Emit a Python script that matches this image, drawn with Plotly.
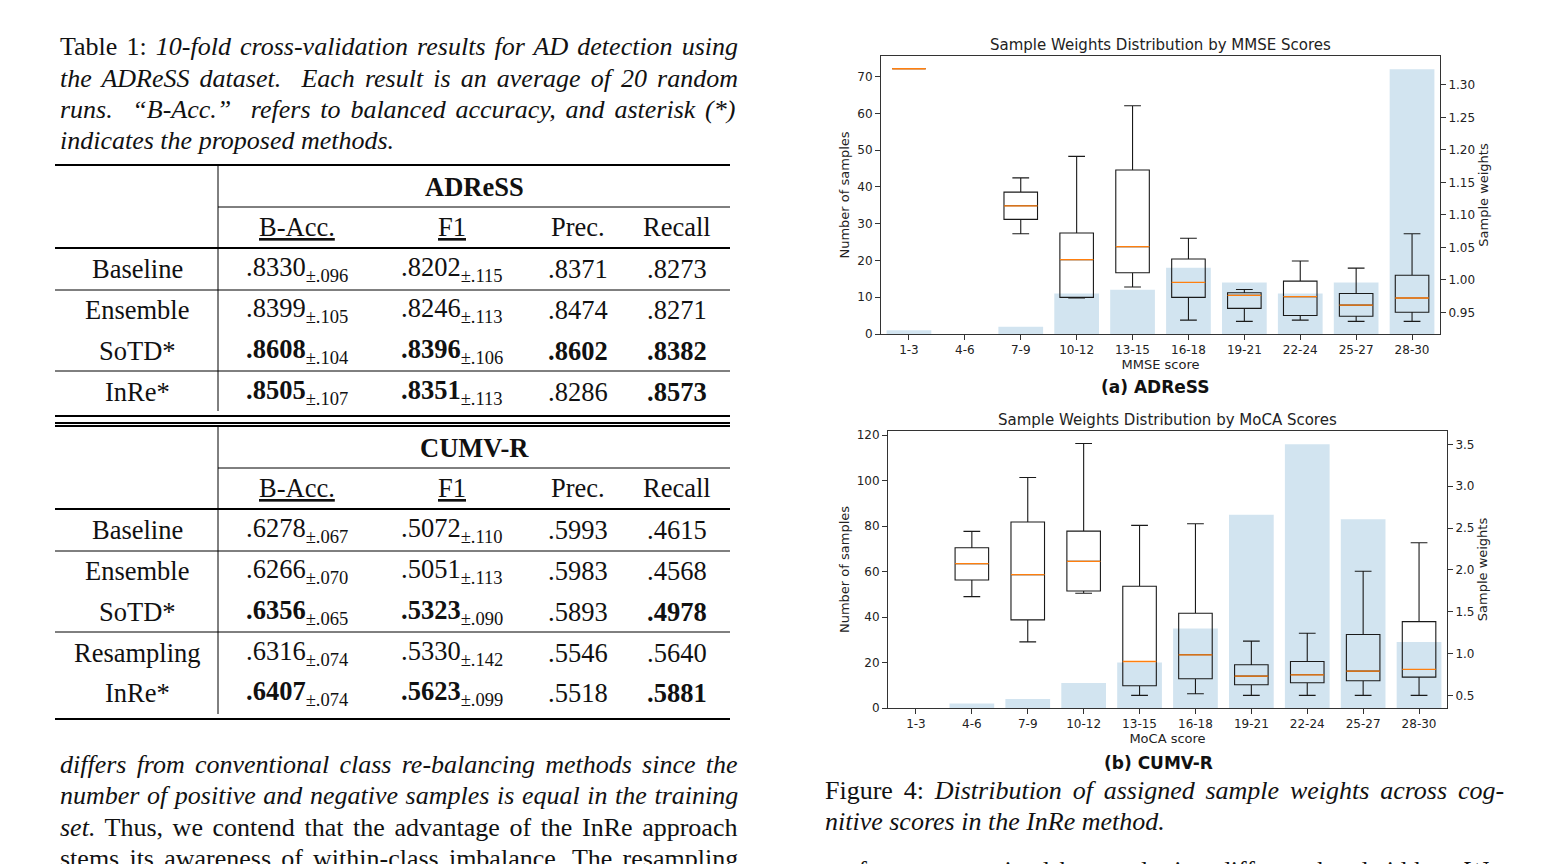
import plotly.graph_objects as go

W, H = 1559, 864


def px(x):
    return x / W


def py(y):
    return 1 - y / H


# ---------------- chart data ----------------
cats = ["1-3", "4-6", "7-9", "10-12", "13-15", "16-18", "19-21", "22-24", "25-27", "28-30"]

mmse_counts = [1, 0, 2, 11, 12, 18, 14, 11, 14, 72]
mmse_low = [1.325, None, 1.071, 0.972, 0.989, 0.938, 0.936, 0.938, 0.936, 0.936]
mmse_q1 = [1.325, None, 1.093, 0.973, 1.011, 0.973, 0.956, 0.945, 0.944, 0.950]
mmse_med = [1.325, None, 1.114, 1.031, 1.051, 0.996, 0.976, 0.974, 0.961, 0.972]
mmse_q3 = [1.325, None, 1.135, 1.072, 1.169, 1.032, 0.980, 0.998, 0.979, 1.007]
mmse_high = [1.325, None, 1.157, 1.190, 1.268, 1.064, 0.985, 1.029, 1.018, 1.071]

moca_counts = [0, 2, 4, 11, 20, 35, 85, 116, 83, 29]
moca_low = [None, 1.680, 1.140, 1.720, 0.500, 0.520, 0.500, 0.500, 0.500, 0.500]
moca_q1 = [None, 1.879, 1.402, 1.748, 0.615, 0.699, 0.627, 0.651, 0.675, 0.719]
moca_med = [None, 2.074, 1.943, 2.102, 0.905, 0.985, 0.731, 0.746, 0.790, 0.810]
moca_q3 = [None, 2.265, 2.571, 2.463, 1.804, 1.482, 0.866, 0.905, 1.227, 1.382]
moca_high = [None, 2.460, 3.103, 3.509, 2.531, 2.551, 1.148, 1.243, 1.983, 2.324]

# ---------------- table data ----------------
metric_headers = ["<u>B-Acc.</u>", "<u>F1</u>", "Prec.", "Recall"]

adress_methods = ["Baseline", "Ensemble", "SoTD*", "InRe*"]
adress_bacc = [".8330", ".8399", ".8608", ".8505"]
adress_bacc_sd = [".096", ".105", ".104", ".107"]
adress_f1 = [".8202", ".8246", ".8396", ".8351"]
adress_f1_sd = [".115", ".113", ".106", ".113"]
adress_prec = [".8371", ".8474", ".8602", ".8286"]
adress_rec = [".8273", ".8271", ".8382", ".8573"]
adress_bold = [[0, 0, 0, 0], [0, 0, 0, 0], [1, 1, 1, 1], [1, 1, 0, 1]]

cumv_methods = ["Baseline", "Ensemble", "SoTD*", "Resampling", "InRe*"]
cumv_bacc = [".6278", ".6266", ".6356", ".6316", ".6407"]
cumv_bacc_sd = [".067", ".070", ".065", ".074", ".074"]
cumv_f1 = [".5072", ".5051", ".5323", ".5330", ".5623"]
cumv_f1_sd = [".110", ".113", ".090", ".142", ".099"]
cumv_prec = [".5993", ".5983", ".5893", ".5546", ".5518"]
cumv_rec = [".4615", ".4568", ".4978", ".5640", ".5881"]
cumv_bold = [[0, 0, 0, 0], [0, 0, 0, 0], [1, 1, 0, 1], [0, 0, 0, 0], [1, 1, 0, 1]]

# ---------------- styles ----------------
BAR = "rgba(31,119,180,0.2)"
ORANGE = "#ff7f0e"
BOXLINE = "#1a1a1a"
AXLINE = "#333333"
CF = "DejaVu Sans"
SERIF = "Liberation Serif"
TXT = "#111111"
BODY = 26
TAB = 26.5

fig = go.Figure()


def add_chart(counts, low, q1, med, q3, high, xa, ya_bar, ya_box):
    fig.add_trace(go.Bar(x=cats, y=counts, xaxis=xa, yaxis=ya_bar, width=0.8,
                         marker=dict(color=BAR, line=dict(width=0)), hoverinfo="skip"))
    idx = [i for i, v in enumerate(med) if v is not None]
    xs = [cats[i] for i in idx]
    fig.add_trace(go.Box(x=xs, q1=[q1[i] for i in idx], median=[med[i] for i in idx],
                         q3=[q3[i] for i in idx], lowerfence=[low[i] for i in idx],
                         upperfence=[high[i] for i in idx], xaxis=xa, yaxis=ya_box,
                         width=0.6, whiskerwidth=0.5, fillcolor="rgba(0,0,0,0)",
                         line=dict(color=BOXLINE, width=1.1), boxpoints=False,
                         hoverinfo="skip"))
    mm = [med[i] for i in idx]
    fig.add_trace(go.Box(x=xs, q1=mm, median=mm, q3=mm, lowerfence=mm, upperfence=mm,
                         xaxis=xa, yaxis=ya_box, width=0.6, whiskerwidth=0,
                         fillcolor="rgba(0,0,0,0)", line=dict(color=ORANGE, width=1.3),
                         boxpoints=False, hoverinfo="skip"))


add_chart(mmse_counts, mmse_low, mmse_q1, mmse_med, mmse_q3, mmse_high, "x", "y", "y2")
add_chart(moca_counts, moca_low, moca_q1, moca_med, moca_q3, moca_high, "x2", "y3", "y4")

tickfont = dict(family=CF, size=12, color="#222222")
titlefont = dict(family=CF, size=13, color="#222222")
axcommon = dict(showline=True, linecolor=AXLINE, linewidth=1, ticks="outside", ticklen=5,
                tickwidth=1, tickcolor=AXLINE, showgrid=False, zeroline=False,
                tickfont=tickfont)


def xaxis_def(x0, x1, anchor, title):
    return dict(domain=[px(x0), px(x1)], anchor=anchor, type="category",
                categoryorder="array", categoryarray=cats, range=[-0.5, 9.5],
                mirror=True, title=dict(text=title, font=titlefont, standoff=0), **axcommon)


fig.update_layout(
    width=W, height=H, margin=dict(l=0, r=0, t=0, b=0), template="none",
    paper_bgcolor="white", plot_bgcolor="white", showlegend=False, boxmode="overlay",
    xaxis=xaxis_def(881, 1440, "y", "MMSE score"),
    yaxis=dict(domain=[py(334), py(56)], anchor="x", range=[0, 75.6],
               tickvals=[0, 10, 20, 30, 40, 50, 60, 70],
               title=dict(text="Number of samples", font=titlefont, standoff=4), **axcommon),
    yaxis2=dict(overlaying="y", anchor="x", side="right", range=[0.9166, 1.3446],
                tickvals=[0.95, 1.0, 1.05, 1.10, 1.15, 1.20, 1.25, 1.30], tickformat=".2f",
                title=dict(text="Sample weights", font=titlefont, standoff=4), **axcommon),
    xaxis2=xaxis_def(888, 1447, "y3", "MoCA score"),
    yaxis3=dict(domain=[py(708), py(431)], anchor="x2", range=[0, 121.8],
                tickvals=[0, 20, 40, 60, 80, 100, 120],
                title=dict(text="Number of samples", font=titlefont, standoff=4), **axcommon),
    yaxis4=dict(overlaying="y3", anchor="x2", side="right", range=[0.3496, 3.659],
                tickvals=[0.5, 1.0, 1.5, 2.0, 2.5, 3.0, 3.5], tickformat=".1f",
                title=dict(text="Sample weights", font=titlefont, standoff=4), **axcommon),
)

ann = []
shapes = []


def text(x, y, s, size=BODY, family=SERIF, xanchor="left", color=TXT, ws=None):
    if ws:
        s = f'<span style="word-spacing:{ws}px">{s}</span>'
    ann.append(dict(x=px(x), y=py(y), xref="paper", yref="paper", text=s, showarrow=False,
                    xanchor=xanchor, yanchor="middle",
                    font=dict(family=family, size=size, color=color)))


def hline(y, x0, x1, w):
    shapes.append(dict(type="line", xref="paper", yref="paper", x0=px(x0), x1=px(x1),
                       y0=py(y), y1=py(y), line=dict(color="black", width=w)))


def vline(x, y0, y1, w=1):
    shapes.append(dict(type="line", xref="paper", yref="paper", x0=px(x), x1=px(x),
                       y0=py(y0), y1=py(y1), line=dict(color="black", width=w)))


# chart titles and sub-captions
text(1160, 45, "Sample Weights Distribution by MMSE Scores", size=15, family=CF,
     xanchor="center", color="#222222")
text(1167, 420, "Sample Weights Distribution by MoCA Scores", size=15, family=CF,
     xanchor="center", color="#222222")
text(1155, 387, "<b>(a) ADReSS</b>", size=17, family=CF, xanchor="center")
text(1158, 763, "<b>(b) CUMV-R</b>", size=17, family=CF, xanchor="center")

# table caption (justified lines approximated with word spacing)
cap_lines = [
    ("Table 1: <i>10-fold cross-validation results for AD detection using</i>", 2.6),
    ("<i>the ADReSS dataset.  Each result is an average of 20 random</i>", 3.6),
    ("<i>runs.  “B-Acc.”  refers to balanced accuracy, and asterisk (*)</i>", 3.3),
    ("<i>indicates the proposed methods.</i>", None),
]
for i, (s, ws) in enumerate(cap_lines):
    text(58, 47 + i * 31.3, s, ws=ws)

para_lines = [
    ("<i>differs from conventional class re-balancing methods since the</i>", 3.7),
    ("<i>number of positive and negative samples is equal in the training</i>", 1.1),
    ("<i>set.</i> Thus, we contend that the advantage of the InRe approach", 3.1),
    ("stems its awareness of within-class imbalance. The resampling", 3.7),
]
for i, (s, ws) in enumerate(para_lines):
    text(58, 764 + i * 31.5, s, ws=ws)

fig_lines = [
    ("Figure 4: <i>Distribution of assigned sample weights across cog-</i>", 4.3),
    ("<i>nitive scores in the InRe method.</i>", None),
]
for i, (s, ws) in enumerate(fig_lines):
    text(823, 790 + i * 31, s, ws=ws)
text(823, 870, "performance attained by employing different bandwidths.  We", ws=4.0)

# table drawing
COLX = [297, 452, 578, 677]
LABX = 137


def cell(v, sd, b):
    main = f"<b>{v}</b>" if b else v
    return main + (f"<sub>±{sd}</sub>" if sd else "")


def draw_table(top, name, methods, bacc, bacc_sd, f1, f1_sd, prec, rec, bold, row_ys,
               group_breaks, bottom, bottom_double):
    hline(top, 55, 730, 2)
    text(474, top + 22, f"<b>{name}</b>", size=TAB, xanchor="center")
    hline(top + 42, 218, 730, 1)
    for cx, h in zip(COLX, metric_headers):
        text(cx, top + 62, h, size=TAB, xanchor="center")
    hline(top + 83, 55, 730, 2)
    for k, m in enumerate(methods):
        y = row_ys[k]
        text(LABX, y, m, size=TAB, xanchor="center")
        vals = [cell(bacc[k], bacc_sd[k], bold[k][0]), cell(f1[k], f1_sd[k], bold[k][1]),
                cell(prec[k], None, bold[k][2]), cell(rec[k], None, bold[k][3])]
        for cx, v in zip(COLX, vals):
            text(cx, y, v, size=TAB, xanchor="center")
    for gy in group_breaks:
        hline(gy, 55, 730, 1)
    vline(218, top, bottom - 5)
    hline(bottom, 55, 730, 2)
    if bottom_double:
        hline(bottom + 7, 55, 730, 2)


draw_table(165, "ADReSS", adress_methods, adress_bacc, adress_bacc_sd, adress_f1,
           adress_f1_sd, adress_prec, adress_rec, adress_bold,
           [269, 310, 351, 392], [290, 371], 416, True)
draw_table(426, "CUMV-R", cumv_methods, cumv_bacc, cumv_bacc_sd, cumv_f1, cumv_f1_sd,
           cumv_prec, cumv_rec, cumv_bold, [530, 571, 612, 653, 693], [551, 632], 719, False)

fig.update_layout(annotations=ann, shapes=shapes)

fig.write_html("out.html", config={"displayModeBar": False},
               post_script="document.body.style.margin='0';document.body.style.overflow='hidden';")
